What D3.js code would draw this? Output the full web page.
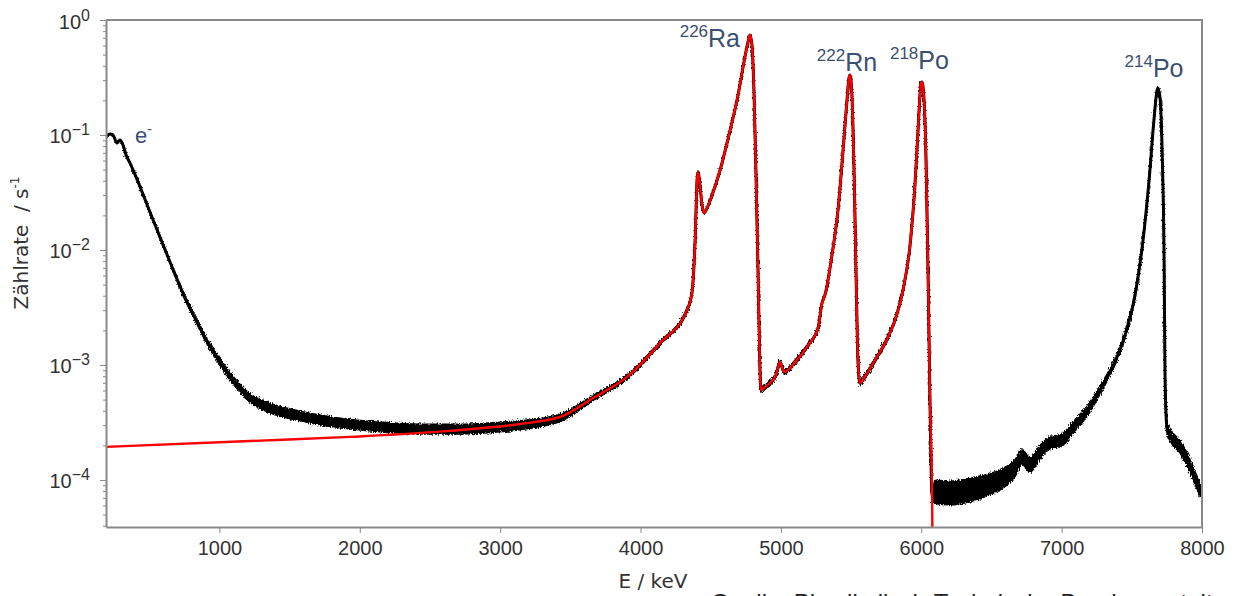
<!DOCTYPE html>
<html>
<head>
<meta charset="utf-8">
<script src="https://cdn.jsdelivr.net/npm/d3@7"></script>
<style>
  body { margin: 0; background: #fff; }
  svg { display: block; font-family: "DejaVu Sans", sans-serif; }
  .tick text { fill: #333; font-size: 20px; }
  .tick line { stroke: #888; }
  .domain { stroke: #888; stroke-width: 2; }
  .axis-title { fill: #333; font-size: 20px; }
  .peak-label { fill: #3b5070; font-family: "Liberation Sans", Arial, sans-serif; }
  .source { fill: #222; font-family: "Liberation Sans", Arial, sans-serif; font-size: 24px; }
</style>
</head>
<body>
<svg id="chart"></svg>
<script>
const blackEnergy = [192, 220, 242, 270, 292, 313, 335, 363, 391, 505, 648, 755, 840, 919, 1004, 1097, 1218, 1360, 1574, 1859,
  2144, 2429, 2714, 2999, 3213, 3427, 3662, 3904, 4139, 4331, 4367, 4389, 4403, 4410, 4424, 4438, 4452, 4474, 4510, 4567,
  4638, 4695, 4737, 4766, 4780, 4794, 4808, 4822, 4837, 4851, 4858, 4879, 4922, 4965, 4993, 5022, 5101, 5194, 5265, 5293,
  5314, 5364, 5407, 5443, 5471, 5485, 5492, 5506, 5521, 5535, 5549, 5563, 5606, 5670, 5741, 5813, 5870, 5920, 5955, 5977,
  5991, 5998, 6005, 6020, 6034, 6048, 6062, 6077, 6105, 6205, 6347, 6490, 6597, 6668, 6718, 6775, 6846, 6917, 7003, 7096,
  7188, 7274, 7359, 7452, 7523, 7580, 7623, 7659, 7680, 7687, 7701, 7716, 7730, 7737, 7751, 7787, 7844, 7901, 7950, 8000];
const blackRate = [0.096, 0.102, 0.100, 0.085, 0.0905, 0.0818, 0.067, 0.057, 0.0477, 0.0214, 0.00787, 0.00383, 0.00237, 0.00155, 0.00106, 7.4e-4, 5.16e-4, 4.23e-4, 3.6e-4, 3.13e-4,
  2.89e-4, 2.77e-4, 2.77e-4, 2.89e-4, 3.07e-4, 3.46e-4, 5.16e-4, 7.87e-4, 1.55e-3, 3.0e-3, 4.31e-3, 0.0122, 0.0406, 0.0477, 0.036, 0.0246, 0.021, 0.0232, 0.030, 0.0496,
  0.110, 0.223, 0.431, 0.644, 0.741, 0.606, 0.246, 0.0496, 0.0067, 9.05e-4, 6.06e-4, 6.3e-4, 6.97e-4, 8.19e-4, 1.06e-3, 8.69e-4, 1.06e-3, 1.49e-3, 2.1e-3, 3.46e-3,
  4.06e-3, 9.05e-3, 0.0223, 0.074, 0.201, 0.313, 0.333, 0.223, 0.0496, 0.0067, 1.1e-3, 6.97e-4, 8.19e-4, 1.1e-3, 1.55e-3, 2.46e-3, 4.49e-3, 0.011, 0.0367, 0.110,
  0.223, 0.283, 0.289, 0.201, 0.0607, 6.7e-3, 4.97e-4, 7.4e-5, 7.87e-5, 7.7e-5, 8.19e-5, 9.23e-5, 1.06e-4, 1.27e-4, 1.58e-4, 1.35e-4, 1.75e-4, 2.1e-4, 2.23e-4, 3.0e-4,
  4.06e-4, 6.06e-4, 9.4e-4, 1.82e-3, 4.06e-3, 0.0122, 0.0406, 0.141, 0.246, 0.256, 0.21, 0.074, 8.2e-3, 7.4e-4, 2.83e-4, 2.32e-4, 1.94e-4, 1.44e-4, 1.04e-4, 7.7e-5];
// half width of the noise band around the measured rate, in decades
const blackSpread = [0, 0, 0, 0, 0, 0, 0, 0, 0, 0, 0, 0.01, 0.015, 0.02, 0.025, 0.03, 0.035, 0.04, 0.04, 0.04,
  0.04, 0.04, 0.04, 0.04, 0.035, 0.03, 0.02, 0.015, 0.012, 0.01, 0, 0, 0, 0, 0, 0, 0, 0, 0, 0,
  0, 0, 0, 0, 0, 0, 0, 0, 0, 0.012, 0.015, 0.015, 0.015, 0.015, 0.012, 0.015, 0.015, 0.012, 0.01, 0,
  0, 0, 0, 0, 0, 0, 0, 0, 0, 0, 0.012, 0.015, 0.015, 0.015, 0.012, 0.01, 0, 0, 0, 0,
  0, 0, 0, 0, 0, 0, 0, 0.06, 0.1, 0.1, 0.1, 0.09, 0.08, 0.07, 0.06, 0.06, 0.055, 0.05, 0.05, 0.045,
  0.04, 0.03, 0.025, 0.02, 0.015, 0, 0, 0, 0, 0, 0, 0, 0, 0.01, 0.04, 0.05, 0.05, 0.05, 0.05, 0.05];

// fitted model (red)
const redEnergy = [192, 1218, 1930, 2643, 3141, 3427, 3662, 3904, 4139, 4331, 4367, 4389, 4403, 4410, 4424, 4438, 4452, 4474, 4510, 4567,
  4638, 4695, 4737, 4766, 4780, 4794, 4808, 4822, 4837, 4851, 4858, 4879, 4922, 4965, 4993, 5022, 5101, 5194, 5265, 5293,
  5314, 5364, 5407, 5443, 5471, 5485, 5492, 5506, 5521, 5535, 5549, 5563, 5606, 5670, 5741, 5813, 5870, 5920, 5955, 5977,
  5991, 5998, 6005, 6020, 6034, 6048, 6062, 6077, 6090];
const redRate = [1.94e-4, 2.18e-4, 2.37e-4, 2.67e-4, 3.07e-4, 3.53e-4, 5.16e-4, 7.87e-4, 1.55e-3, 3.0e-3, 4.31e-3, 0.0122, 0.0406, 0.0477, 0.036, 0.0246, 0.021, 0.0232, 0.030, 0.0496,
  0.110, 0.223, 0.431, 0.644, 0.741, 0.606, 0.246, 0.0496, 0.0067, 9.05e-4, 6.06e-4, 6.3e-4, 6.97e-4, 8.19e-4, 1.06e-3, 8.69e-4, 1.06e-3, 1.49e-3, 2.1e-3, 3.46e-3,
  4.06e-3, 9.05e-3, 0.0223, 0.074, 0.201, 0.313, 0.333, 0.223, 0.0496, 0.0067, 1.1e-3, 6.97e-4, 8.19e-4, 1.1e-3, 1.55e-3, 2.46e-3, 4.49e-3, 0.011, 0.0367, 0.110,
  0.223, 0.283, 0.289, 0.201, 0.0607, 6.7e-3, 4.97e-4, 7.4e-5, 1e-6];

const xTicks = [1000, 2000, 3000, 4000, 5000, 6000, 7000, 8000];
const yTicks = [1, 1e-1, 1e-2, 1e-3, 1e-4];
const yTickExponents = ['0', '\u22121', '\u22122', '\u22123', '\u22124'];

// peak annotations: mass number, element, where the label sits (keV, 1/s)
const peakMass = ['226', '222', '218', '214', ''];
const peakName = ['Ra', 'Rn', 'Po', 'Po', 'e'];
const peakSup = ['', '', '', '', '-'];
const peakEnergy = [4709, 5471, 5987, 7658, 399];
const peakRate = [0.58, 0.36, 0.375, 0.319, 0.085];
const peakAnchor = ['end', 'middle', 'middle', 'middle', 'start'];

class SpectrumChart {
  constructor(_config) {
    this.config = {
      parentElement: _config.parentElement,
      containerWidth: _config.containerWidth || 1239,
      containerHeight: _config.containerHeight || 596,
      margin: _config.margin || {top: 20, right: 37, bottom: 69, left: 106}
    };
    this.initVis();
  }

  initVis() {
    let vis = this;
    vis.width = vis.config.containerWidth - vis.config.margin.left - vis.config.margin.right;
    vis.height = vis.config.containerHeight - vis.config.margin.top - vis.config.margin.bottom;

    vis.xScale = d3.scaleLinear().domain([192, 8000]).range([0, vis.width]);
    vis.yScale = d3.scaleLog().domain([3.9e-5, 1]).range([vis.height, 0]);

    vis.svg = d3.select(vis.config.parentElement)
        .attr('width', vis.config.containerWidth)
        .attr('height', vis.config.containerHeight);

    const defs = vis.svg.append('defs');
    defs.append('clipPath').attr('id', 'plot-clip')
      .append('rect').attr('width', vis.width).attr('height', vis.height);
    // rough edge for the noisy part of the measurement
    const rough = defs.append('filter').attr('id', 'rough')
        .attr('filterUnits', 'userSpaceOnUse')
        .attr('x', -20).attr('y', -20).attr('width', vis.width + 40).attr('height', vis.height + 40);
    rough.append('feTurbulence').attr('type', 'fractalNoise')
        .attr('baseFrequency', '0.9 0.5').attr('numOctaves', 1).attr('seed', 4).attr('result', 'noise');
    rough.append('feDisplacementMap').attr('in', 'SourceGraphic').attr('in2', 'noise')
        .attr('scale', 6).attr('xChannelSelector', 'R').attr('yChannelSelector', 'G');

    vis.chart = vis.svg.append('g')
        .attr('transform', `translate(${vis.config.margin.left},${vis.config.margin.top})`);

    vis.plot = vis.chart.append('g').attr('clip-path', 'url(#plot-clip)');

    // axes
    vis.xAxis = d3.axisBottom(vis.xScale).tickValues(xTicks).tickSize(6).tickSizeOuter(0)
        .tickPadding(8).tickFormat(d3.format('d'));
    vis.yAxis = d3.axisLeft(vis.yScale).tickValues(yTicks).tickSize(6).tickSizeOuter(0).tickPadding(10).tickFormat('');
    vis.yMinor = d3.axisLeft(vis.yScale)
        .tickValues(vis.yScale.ticks().filter(t => !yTicks.includes(t)))
        .tickSize(3).tickFormat('');

    vis.xAxisG = vis.chart.append('g').attr('transform', `translate(0,${vis.height})`);
    vis.yMinorG = vis.chart.append('g');
    vis.yAxisG = vis.chart.append('g');

    // frame top and right
    vis.chart.append('path')
        .attr('d', `M0,0H${vis.width}V${vis.height}`)
        .attr('fill', 'none').attr('stroke', '#888').attr('stroke-width', 2);

    vis.svg.append('text')
        .attr('class', 'axis-title')
        .attr('transform', 'translate(28,243) rotate(-90)')
        .attr('text-anchor', 'middle')
        .call(t => {
          t.append('tspan').text('Z\u00e4hlrate\u00a0 / s');
          t.append('tspan').attr('dy', -9).style('font-size', '12px').text('-1');
        });

    vis.svg.append('text')
        .attr('class', 'axis-title')
        .attr('x', 653).attr('y', 588)
        .attr('text-anchor', 'middle')
        .text('E / keV');

    vis.svg.append('text')
        .attr('class', 'source')
        .attr('x', 711).attr('y', 611)
        .text('Quelle: Physikalisch-Technische Bundesanstalt');

    this.updateVis();
  }

  updateVis() {
    let vis = this;
    vis.measured = blackEnergy.map((e, i) => ({energy: e, rate: blackRate[i], spread: blackSpread[i]}));
    vis.fit = redEnergy.map((e, i) => ({energy: e, rate: redRate[i]}));
    vis.labels = peakName.map((n, i) => ({
      mass: peakMass[i], name: n, sup: peakSup[i], energy: peakEnergy[i], rate: peakRate[i], anchor: peakAnchor[i]
    }));
    vis.renderVis();
  }

  renderVis() {
    let vis = this;
    const x = d => vis.xScale(d.energy);

    const band = d3.area()
        .x(x)
        .y0(d => vis.yScale(d.rate / Math.pow(10, d.spread)))
        .y1(d => vis.yScale(d.rate * Math.pow(10, d.spread)))
        .curve(d3.curveMonotoneX);

    const line = d3.line()
        .x(x)
        .y(d => vis.yScale(d.rate))
        .curve(d3.curveMonotoneX);

    vis.plot.append('path')
        .datum(vis.measured)
        .attr('d', band)
        .attr('fill', '#000').attr('stroke', '#000').attr('stroke-width', 2)
        .attr('filter', 'url(#rough)');

    vis.plot.append('path')
        .datum(vis.measured)
        .attr('d', line)
        .attr('fill', 'none').attr('stroke', '#000').attr('stroke-width', 3);

    vis.plot.append('path')
        .datum(vis.fit)
        .attr('d', line)
        .attr('fill', 'none').attr('stroke', '#f00').attr('stroke-width', 2.4);

    // peak labels
    vis.chart.selectAll('.peak-label')
        .data(vis.labels)
        .join('text')
        .attr('class', 'peak-label')
        .attr('x', x)
        .attr('y', d => vis.yScale(d.rate))
        .attr('text-anchor', d => d.anchor)
        .each(function(d) {
          const t = d3.select(this);
          if (d.mass) {
            t.append('tspan').attr('dy', -10).style('font-size', '17px').text(d.mass);
            t.append('tspan').attr('dy', 10).style('font-size', '25px').text(d.name);
          } else {
            t.append('tspan').style('font-size', '22px').text(d.name);
            t.append('tspan').attr('dy', -9).style('font-size', '14px').text(d.sup);
          }
        });

    vis.xAxisG.call(vis.xAxis);
    vis.yMinorG.call(vis.yMinor);
    vis.yMinorG.select('.domain').remove();
    vis.yAxisG.call(vis.yAxis);

    vis.yAxisG.selectAll('.tick text')
        .attr('dy', '0.4em')
        .each(function(d, i) {
          const t = d3.select(this);
          t.append('tspan').text('10');
          t.append('tspan').attr('dy', '-0.5em').style('font-size', '16px').text(yTickExponents[i]);
        });
  }
}

new SpectrumChart({parentElement: '#chart'});
</script>
</body>
</html>
